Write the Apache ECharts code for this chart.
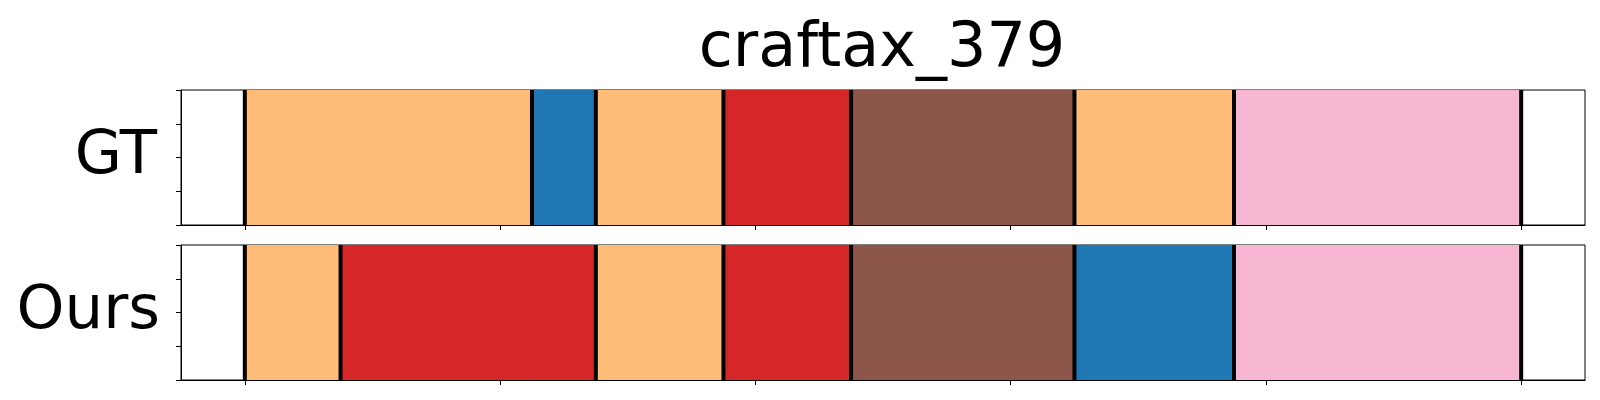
<!DOCTYPE html>
<html>
<head>
<meta charset="utf-8">
<script src="https://cdn.jsdelivr.net/npm/echarts@6/dist/echarts.min.js"></script>
<style>html,body{margin:0;padding:0;background:#fff;}#c{width:1600px;height:400px;}</style>
</head>
<body>
<div id="c"></div>
<script>
const title = 'craftax_379';
const rowNames = ['GT', 'Ours'];
const classColors = ['#1f77b4', '#ffbb78', '#d62728', '#8c564b', '#f7b6d2'];
const xTicks = [0, 20, 40, 60, 80, 100];
const yTicks = [0, 0.25, 0.5, 0.75, 1];
// GT segments
const gtStart = [0, 22.5, 27.5, 37.5, 47.5, 65, 77.5];
const gtEnd   = [22.5, 27.5, 37.5, 47.5, 65, 77.5, 100];
const gtClass = [1, 0, 1, 2, 3, 1, 4];
// Ours segments
const oursStart = [0, 7.5, 27.5, 37.5, 47.5, 65, 77.5];
const oursEnd   = [7.5, 27.5, 37.5, 47.5, 65, 77.5, 100];
const oursClass = [1, 2, 1, 2, 3, 0, 4];

const chart = echarts.init(document.getElementById('c'), null, {renderer: 'canvas'});
const FONT = 'DejaVu Sans';
const grids = [
  {left: 181, top: 90, width: 1404, height: 135},
  {left: 181, top: 245, width: 1404, height: 135}
];

function segData(st, en, cl) {
  return st.map((s, i) => [s, en[i], cl[i]]);
}
function boundaries(st, en) {
  return st.concat([en[en.length - 1]]).map(v => [v]);
}
function renderSeg(params, api) {
  const p0 = api.coord([api.value(0), 1]);
  const p1 = api.coord([api.value(1), 0]);
  return {
    type: 'rect',
    shape: {x: p0[0], y: p0[1], width: p1[0] - p0[0], height: p1[1] - p0[1]},
    style: {fill: classColors[api.value(2)]}
  };
}
function renderLine(params, api) {
  const p0 = api.coord([api.value(0), 1]);
  const p1 = api.coord([api.value(0), 0]);
  return {
    type: 'rect',
    shape: {x: p0[0] - 2, y: p0[1], width: 4, height: p1[1] - p0[1]},
    style: {fill: '#000'}
  };
}

const xAxes = grids.map((g, i) => ({
  type: 'value', gridIndex: i, min: -5, max: 105,
  axisLine: {show: true, onZero: false, lineStyle: {color: '#000', width: 1}},
  axisTick: {show: true, customValues: xTicks, length: 5, lineStyle: {color: '#000', width: 1}},
  axisLabel: {show: false},
  splitLine: {show: false}
}));
const yAxes = grids.map((g, i) => ({
  type: 'value', gridIndex: i, min: 0, max: 1, interval: 0.25,
  axisLine: {show: true, onZero: false, lineStyle: {color: '#000', width: 1}},
  axisTick: {show: true, customValues: yTicks, length: 5, lineStyle: {color: '#000', width: 1}},
  axisLabel: {show: false},
  splitLine: {show: false}
}));

const rows = [segData(gtStart, gtEnd, gtClass), segData(oursStart, oursEnd, oursClass)];
const bnds = [boundaries(gtStart, gtEnd), boundaries(oursStart, oursEnd)];
const series = [];
rows.forEach((d, i) => {
  series.push({type: 'custom', xAxisIndex: i, yAxisIndex: i, renderItem: renderSeg, data: d, silent: true, animation: false});
  series.push({type: 'custom', xAxisIndex: i, yAxisIndex: i, renderItem: renderLine, data: bnds[i], silent: true, animation: false, z: 3});
});

chart.setOption({
  animation: false,
  backgroundColor: '#fff',
  grid: grids.map(g => Object.assign({show: true, borderColor: '#000', borderWidth: 1, backgroundColor: 'transparent'}, g)),
  xAxis: xAxes,
  yAxis: yAxes,
  series: series,
  graphic: [
    {type: 'text', x: 882, y: 50, style: {text: title, fontFamily: FONT, fontSize: 62, fill: '#000', align: 'center', verticalAlign: 'middle'}},
    {type: 'text', x: 157, y: 157, style: {text: rowNames[0], fontFamily: FONT, fontSize: 61, fill: '#000', align: 'right', verticalAlign: 'middle'}},
    {type: 'text', x: 160, y: 312, style: {text: rowNames[1], fontFamily: FONT, fontSize: 61, fill: '#000', align: 'right', verticalAlign: 'middle'}}
  ]
});
</script>
</body>
</html>
